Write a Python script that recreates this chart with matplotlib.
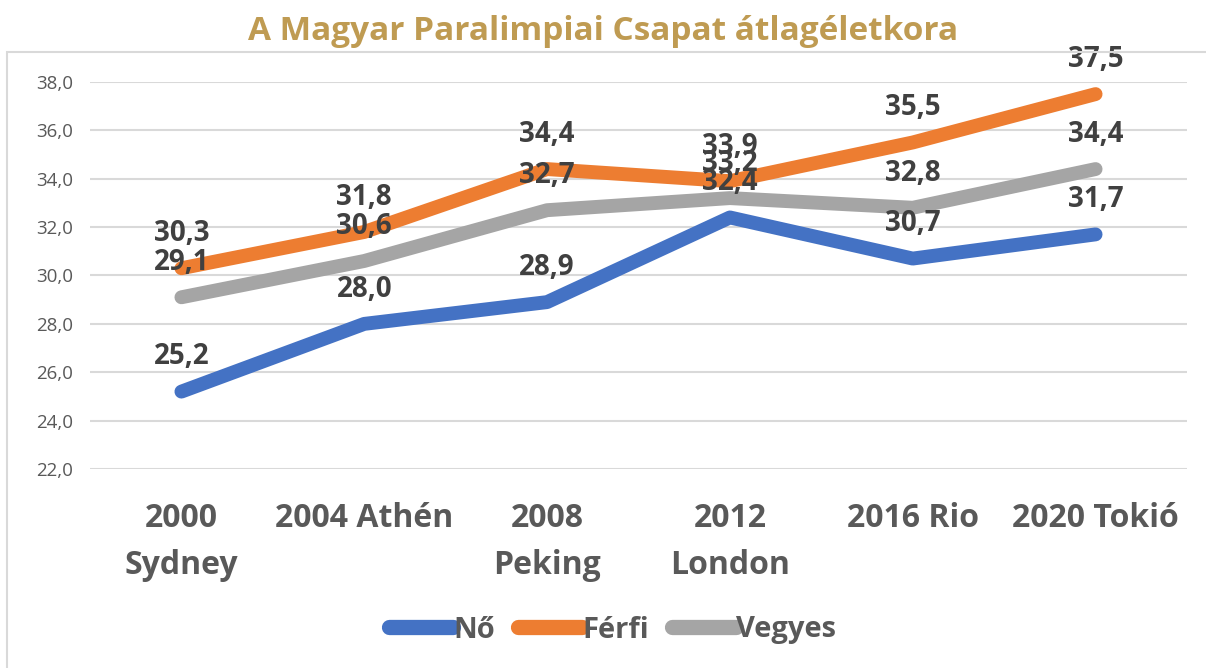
import matplotlib
matplotlib.use('Agg')
import matplotlib.pyplot as plt
from matplotlib.patches import Rectangle

# Adatok
helyszinek = ['2000\nSydney', '2004 Athén', '2008\nPeking', '2012\nLondon', '2016 Rio', '2020 Tokió']
no = [25.2, 28.0, 28.9, 32.4, 30.7, 31.7]
ferfi = [30.3, 31.8, 34.4, 33.9, 35.5, 37.5]
vegyes = [29.1, 30.6, 32.7, 33.2, 32.8, 34.4]
yticks = [22, 24, 26, 28, 30, 32, 34, 36, 38]

plt.rcParams['font.family'] = ['Open Sans', 'DejaVu Sans']

fig = plt.figure(figsize=(12.06, 6.68), dpi=100)
# keret a diagram körül
fig.patches.append(Rectangle((7 / 1206, -0.01), 1.0, 1 - 52 / 668 + 0.01,
                             transform=fig.transFigure, fill=False,
                             edgecolor='#D9D9D9', linewidth=1.5))

ax = fig.add_axes([90 / 1206, 1 - 469 / 668, 1097 / 1206, 387 / 668])
x = list(range(len(helyszinek)))

sorozatok = [('Nő', no, '#4472C4'), ('Férfi', ferfi, '#ED7D31'), ('Vegyes', vegyes, '#A5A5A5')]
for nev, ertekek, szin in sorozatok:
    ax.plot(x, ertekek, color=szin, linewidth=10, solid_capstyle='round',
            solid_joinstyle='round', label=nev, zorder=3, clip_on=False)

# adatcímkék
for nev, ertekek, szin in sorozatok:
    for i, v in enumerate(ertekek):
        ax.annotate(f'{v:.1f}'.replace('.', ','), (i, v), xytext=(0, 25),
                    textcoords='offset points', ha='center', va='center',
                    fontsize=20, fontweight='bold', color='#404040', zorder=5)

ax.set_xlim(-0.5, 5.5)
ax.set_ylim(22, 38)
ax.set_yticks(yticks)
ax.set_yticklabels([f'{t:.1f}'.replace('.', ',') for t in yticks], fontsize=13.5, color='#595959')
ax.set_xticks(x)
ax.set_xticklabels(helyszinek, fontsize=23, fontweight='bold', color='#595959',
                   linespacing=1.55, va='top')
ax.tick_params(axis='both', length=0)
ax.tick_params(axis='x', pad=24)
ax.tick_params(axis='y', pad=12)
ax.grid(axis='y', color='#D9D9D9', linewidth=1.5)
ax.set_axisbelow(True)
for s in ax.spines.values():
    s.set_visible(False)

fig.text(0.5, 1 - 32 / 668, 'A Magyar Paralimpiai Csapat átlagéletkora', ha='center', va='center',
         fontsize=24, fontweight='bold', color='#BF9B52')

leg = fig.legend(loc='center', bbox_to_anchor=(0.508, 1 - 630 / 668), ncol=3, frameon=False,
                 fontsize=21, handlelength=2.2, handletextpad=0.0, columnspacing=0.8)
for t in leg.get_texts():
    t.set_fontweight('bold')
    t.set_color('#595959')
for h in leg.get_lines():
    h.set_solid_capstyle('round')
    h.set_linewidth(11)

fig.savefig('out.png', dpi=100)
